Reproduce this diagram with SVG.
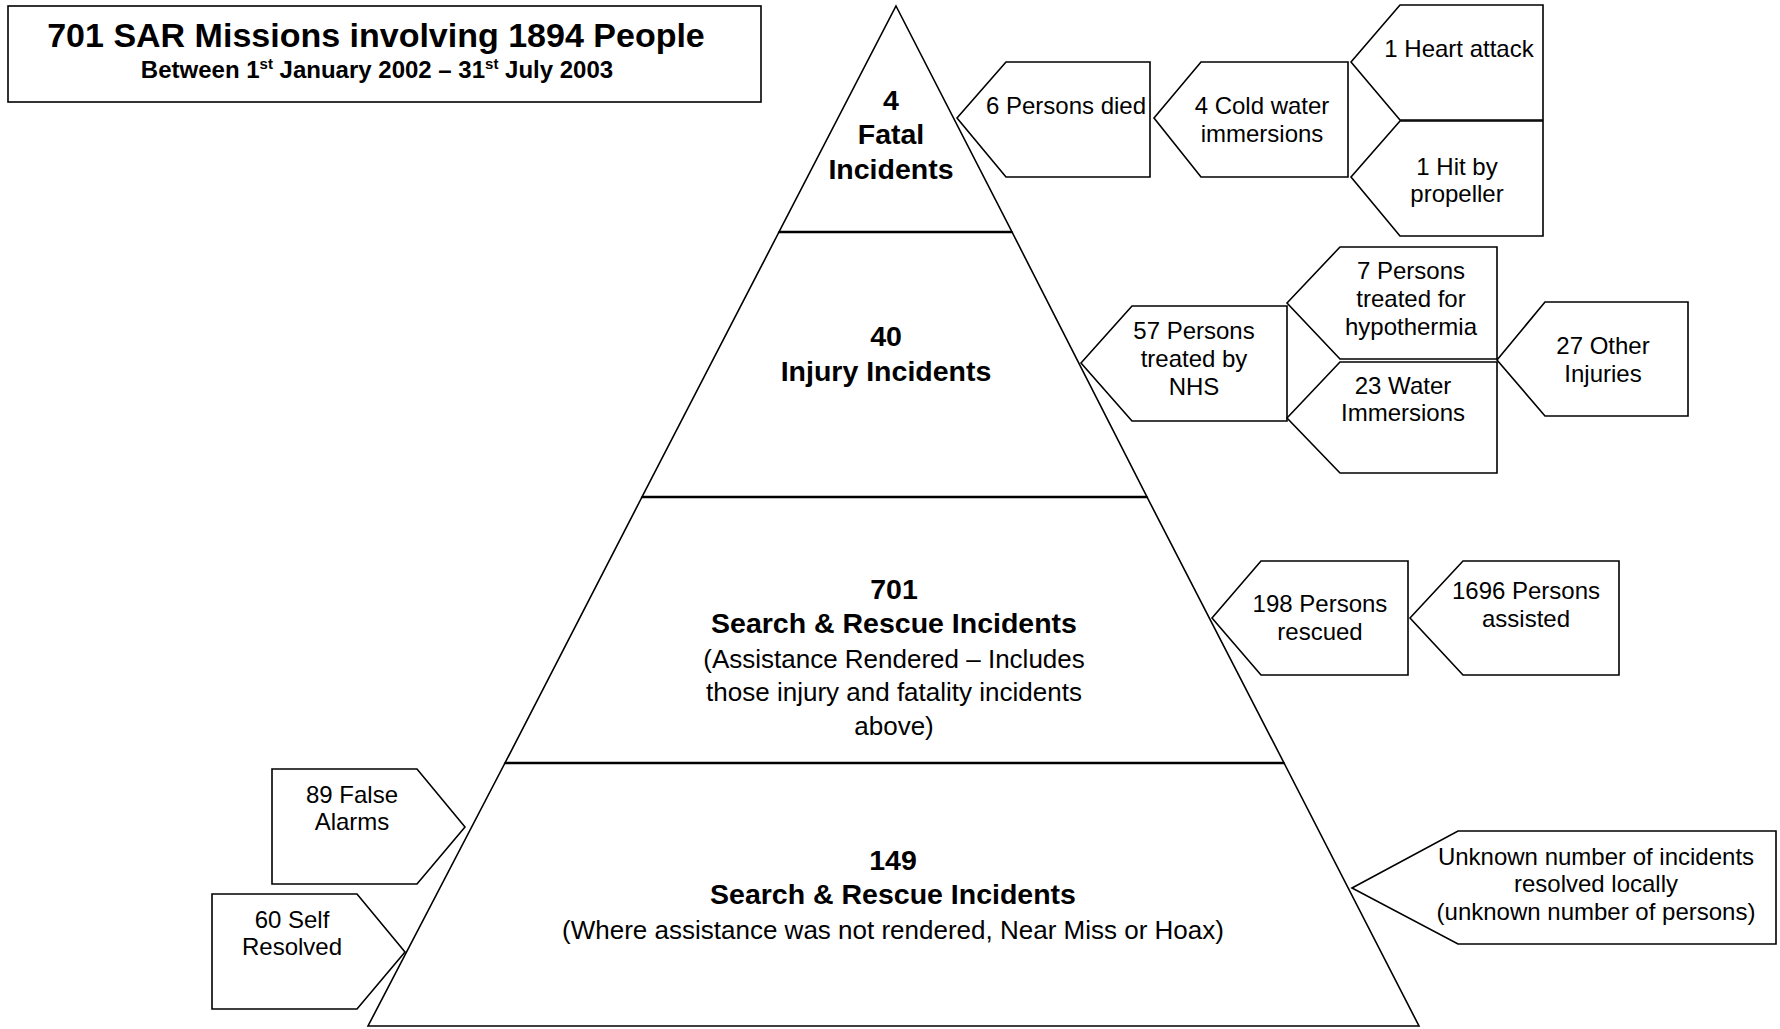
<svg xmlns="http://www.w3.org/2000/svg" width="1780" height="1029" viewBox="0 0 1780 1029">
<style>
.s{fill:#fff;stroke:#000;stroke-width:1.6;stroke-linejoin:miter}
.div{stroke:#000;stroke-width:2.6;fill:none}
text{font-family:"Liberation Sans",Arial,sans-serif;fill:#000;text-anchor:middle}
.b{font-size:24px}
.pb{font-size:28.5px;font-weight:bold}
.pr{font-size:26px}
.tt{font-size:34px;font-weight:bold}
.st{font-size:24px;font-weight:bold}
</style>
<rect width="1780" height="1029" fill="#fff"/>
<g id="title">
<rect class="s" x="8" y="6" width="753" height="96"/>
<text class="tt" x="376" y="47">701 SAR Missions involving 1894 People</text>
<text class="st" x="377" y="78">Between 1<tspan dy="-9" font-size="15">st</tspan><tspan dy="9"> January 2002 – 31</tspan><tspan dy="-9" font-size="15">st</tspan><tspan dy="9"> July 2003</tspan></text>
</g>
<g id="tier-fatal">
<polygon class="s" points="896,6 1012,232 779,232"/>
<text class="pb" x="891" y="110">4</text>
<text class="pb" x="891" y="144">Fatal</text>
<text class="pb" x="891" y="179">Incidents</text>
</g>
<g id="tier-injury">
<polygon class="s" points="779,232 1012,232 1147,497 642,497"/>
<text class="pb" x="886" y="346">40</text>
<text class="pb" x="886" y="381">Injury Incidents</text>
</g>
<g id="tier-sar701">
<polygon class="s" points="642,497 1147,497 1284,763 505,763"/>
<text class="pb" x="894" y="599">701</text>
<text class="pb" x="894" y="633">Search &amp; Rescue Incidents</text>
<text class="pr" x="894" y="668">(Assistance Rendered – Includes</text>
<text class="pr" x="894" y="701">those injury and fatality incidents</text>
<text class="pr" x="894" y="735">above)</text>
</g>
<g id="tier-sar149">
<polygon class="s" points="505,763 1284,763 1419,1026 368,1026"/>
<text class="pb" x="893" y="870">149</text>
<text class="pb" x="893" y="904">Search &amp; Rescue Incidents</text>
<text class="pr" x="893" y="939">(Where assistance was not rendered, Near Miss or Hoax)</text>
</g>
<g id="dividers">
<line class="div" x1="779" y1="232" x2="1012" y2="232"/>
<line class="div" x1="642" y1="497" x2="1147" y2="497"/>
<line class="div" x1="505" y1="763" x2="1284" y2="763"/>
</g>
<g id="persons-died">
<polygon class="s" points="957,118 1006,62 1150,62 1150,177 1006,177"/>
<text class="b" x="1066" y="114">6 Persons died</text>
</g>
<g id="cold-water">
<polygon class="s" points="1154,118 1201,62 1348,62 1348,177 1201,177"/>
<text class="b" x="1262" y="114">4 Cold water</text>
<text class="b" x="1262" y="142">immersions</text>
</g>
<g id="heart-attack">
<polygon class="s" points="1351,62 1400,5 1543,5 1543,120 1400,120"/>
<text class="b" x="1459" y="57">1 Heart attack</text>
</g>
<g id="propeller">
<polygon class="s" points="1351,177 1400,121 1543,121 1543,236 1400,236"/>
<text class="b" x="1457" y="175">1 Hit by</text>
<text class="b" x="1457" y="202">propeller</text>
</g>
<g id="nhs">
<polygon class="s" points="1081,363 1132,306 1287,306 1287,421 1132,421"/>
<text class="b" x="1194" y="339">57 Persons</text>
<text class="b" x="1194" y="367">treated by</text>
<text class="b" x="1194" y="395">NHS</text>
</g>
<g id="hypothermia">
<polygon class="s" points="1287,303 1340,247 1497,247 1497,359 1340,359"/>
<text class="b" x="1411" y="279">7 Persons</text>
<text class="b" x="1411" y="307">treated for</text>
<text class="b" x="1411" y="335">hypothermia</text>
</g>
<g id="water-immersions">
<polygon class="s" points="1287,418 1340,362 1497,362 1497,473 1340,473"/>
<text class="b" x="1403" y="394">23 Water</text>
<text class="b" x="1403" y="421">Immersions</text>
</g>
<g id="other-injuries">
<polygon class="s" points="1497,360 1545,302 1688,302 1688,416 1545,416"/>
<text class="b" x="1603" y="354">27 Other</text>
<text class="b" x="1603" y="382">Injuries</text>
</g>
<g id="rescued">
<polygon class="s" points="1212,618 1261,561 1408,561 1408,675 1261,675"/>
<text class="b" x="1320" y="612">198 Persons</text>
<text class="b" x="1320" y="640">rescued</text>
</g>
<g id="assisted">
<polygon class="s" points="1410,618 1463,561 1619,561 1619,675 1463,675"/>
<text class="b" x="1526" y="599">1696 Persons</text>
<text class="b" x="1526" y="627">assisted</text>
</g>
<g id="false-alarms">
<polygon class="s" points="272,769 417,769 465,827 417,884 272,884"/>
<text class="b" x="352" y="803">89 False</text>
<text class="b" x="352" y="830">Alarms</text>
</g>
<g id="self-resolved">
<polygon class="s" points="212,894 357,894 405,952 357,1009 212,1009"/>
<text class="b" x="292" y="928">60 Self</text>
<text class="b" x="292" y="955">Resolved</text>
</g>
<g id="unknown">
<polygon class="s" points="1352,888 1458,831 1776,831 1776,944 1458,944"/>
<text class="b" x="1596" y="865">Unknown number of incidents</text>
<text class="b" x="1596" y="892">resolved locally</text>
<text class="b" x="1596" y="920">(unknown number of persons)</text>
</g>
<g id="connectors"/>
</svg>
